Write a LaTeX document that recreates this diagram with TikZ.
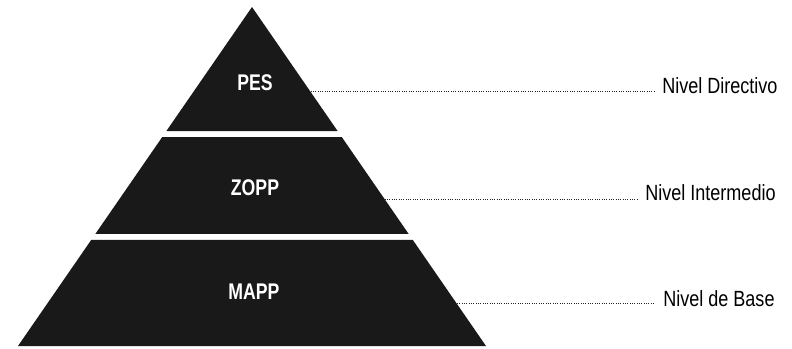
\documentclass[tikz,border=0pt]{standalone}
\usepackage{fontspec}
\newfontfamily\lblfont[FakeStretch=0.82]{Liberation Sans}
\newfontfamily\tagfont[FakeStretch=0.78]{Liberation Sans}
\usetikzlibrary{calc}
\begin{document}
\begin{tikzpicture}[x=0.75pt,y=-0.75pt,
  band/.style={fill=black!90,draw=none},
  tag/.style={text=white,font=\tagfont\bfseries\fontsize{17}{20}\selectfont,inner sep=0pt},
  lvl/.style={font=\lblfont\fontsize{16.5}{20}\selectfont,anchor=west,inner sep=0pt},
  conn/.style={densely dotted,line width=0.75pt,black!85,shorten >=6pt}]
\useasboundingbox (0,0) rectangle (792,349);
\coordinate (A) at (252,7);
\coordinate (BL) at (18,346);
\coordinate (BR) at (486,346);
% bands
\fill[band] (A) -- ($(A)!0.3658!(BR)$) -- ($(A)!0.3658!(BL)$) -- cycle;
\fill[band] ($(A)!0.3835!(BL)$) -- ($(A)!0.3835!(BR)$) -- ($(A)!0.6696!(BR)$) -- ($(A)!0.6696!(BL)$) -- cycle;
\fill[band] ($(A)!0.6873!(BL)$) -- ($(A)!0.6873!(BR)$) -- (BR) -- (BL) -- cycle;
% connector starts on the right edge
\coordinate (c1) at ($(A)!0.2507!(BR)$);
\coordinate (c2) at ($(A)!0.5664!(BR)$);
\coordinate (c3) at ($(A)!0.8761!(BR)$);
% texts
\node[tag] (pes) at (255,83) {PES};
\node[tag] (zopp) at (255,188) {ZOPP};
\node[tag] (mapp) at (254,292) {MAPP};
\node[lvl] (l1) at (662,86) {Nivel Directivo};
\node[lvl] (l2) at (645,193) {Nivel Intermedio};
\node[lvl] (l3) at (663,299) {Nivel de Base};
% connectors
\draw[conn] (c1) -- (c1 -| l1.west);
\draw[conn] (c2) -- (c2 -| l2.west);
\draw[conn] (c3) -- (c3 -| l3.west);
\end{tikzpicture}
\end{document}
